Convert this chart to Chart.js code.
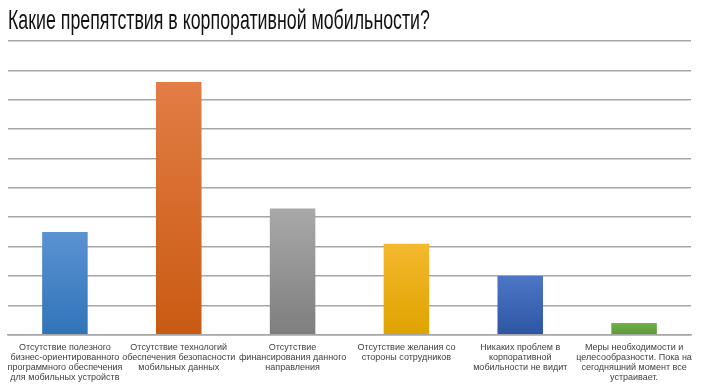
<!DOCTYPE html>
<html>
<head>
<meta charset="utf-8">
<script src="https://cdn.jsdelivr.net/npm/chart.js@4"></script>
<style>
  html, body { margin: 0; padding: 0; background: #fff; }
  #wrap { width: 703px; height: 388px; }
</style>
</head>
<body>
<div id="wrap"><canvas id="chart" width="703" height="388"></canvas></div>
<script>
  "use strict";

  const TITLE = "Какие препятствия в корпоративной мобильности?";

  const CATEGORIES = [
    ["Отсутствие полезного", "бизнес-ориентированного", "программного обеспечения", "для мобильных устройств"],
    ["Отсутствие технологий", "обеспечения безопасности", "мобильных данных"],
    ["Отсутствие", "финансирования данного", "направления"],
    ["Отсутствие желания со", "стороны сотрудников"],
    ["Никаких проблем в", "корпоративной", "мобильности не видит"],
    ["Меры необходимости и", "целесообразности. Пока на", "сегодняшний момент все", "устраивает."],
  ];

  const VALUES = [3.5, 8.6, 4.3, 3.1, 2.0, 0.4];

  const Y_MAX = 10;

  // top / bottom gradient stops per bar
  const COLORS_TOP = ["#5b93d3", "#e27d45", "#a9a9a9", "#f4b92e", "#4d76c6", "#72b04a"];
  const COLORS_BOTTOM = ["#2f74b8", "#c95a12", "#7e7e7e", "#dfa300", "#2c56a3", "#5c9a36"];

  function barFill(ctx) {
    const chart = ctx.chart;
    const area = chart.chartArea;
    const i = ctx.dataIndex;
    if (!area || i === undefined) return COLORS_BOTTOM[i || 0];
    const top = chart.scales.y.getPixelForValue(VALUES[i]);
    const g = chart.ctx.createLinearGradient(0, top, 0, area.bottom);
    g.addColorStop(0, COLORS_TOP[i]);
    g.addColorStop(1, COLORS_BOTTOM[i]);
    return g;
  }

  // the original title uses a narrow face; no narrow font installed, so squeeze it
  const narrowTitle = {
    id: "narrowTitle",
    afterDraw(chart) {
      const c = chart.ctx;
      c.save();
      c.font = "28px 'Liberation Sans', Arial";
      c.fillStyle = "#111";
      c.textBaseline = "alphabetic";
      c.translate(8, 29);
      c.scale(0.635, 1);
      c.fillText(TITLE, 0, 0);
      c.restore();
    },
  };

  new Chart(document.getElementById("chart"), {
    type: "bar",
    data: {
      labels: CATEGORIES,
      datasets: [
        {
          data: VALUES,
          backgroundColor: barFill,
          borderWidth: 0,
          barPercentage: 0.4,
          categoryPercentage: 1,
        },
      ],
    },
    plugins: [narrowTitle],
    options: {
      responsive: false,
      animation: false,
      layout: { padding: { left: 8, right: 12, top: 41, bottom: 5 } },
      plugins: {
        legend: { display: false },
        tooltip: { enabled: false },
        title: { display: false },
      },
      scales: {
        x: {
          grid: { display: false },
          border: { display: true, color: "#a6a6a6", width: 1.5 },
          ticks: {
            autoSkip: false,
            maxRotation: 0,
            color: "#404040",
            padding: 0,
            font: { family: "'Liberation Sans', Arial", size: 9, lineHeight: 1.12 },
          },
        },
        y: {
          min: 0,
          max: Y_MAX,
          ticks: { display: false, stepSize: 1 },
          grid: { color: "#a6a6a6", lineWidth: 1.5, drawTicks: false },
          border: { display: false },
        },
      },
    },
  });
</script>
</body>
</html>
